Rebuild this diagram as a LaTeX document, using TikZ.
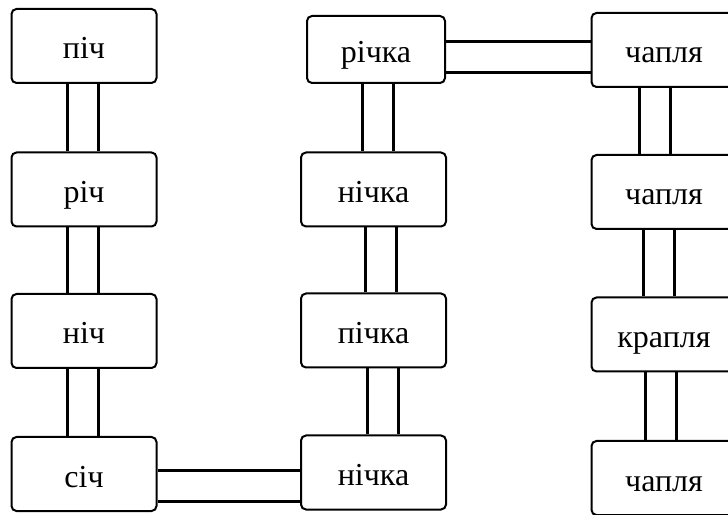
\documentclass[tikz,border=0pt]{standalone}
\usepackage{fontspec}
\setmainfont{Liberation Serif}
\usepackage{tikz}
\usetikzlibrary{backgrounds}
\tikzset{
  box/.style={draw, line width=2pt, rounded corners=5pt,
              minimum width=145pt, minimum height=74pt, inner sep=3pt,
              text height=34pt, text depth=8pt,
              font=\fontsize{32}{38}\selectfont},
  link/.style={double, line width=3pt, double distance=28pt}
}
\begin{document}
\begin{tikzpicture}[x=1pt,y=1pt]
  \useasboundingbox (0,0) rectangle (728,514);
  \clip (0,0) rectangle (728,514);
  % left column
  \node[box] (pich) at (84,468) {піч};
  \node[box] (rich) at (84,324.5) {річ};
  \node[box] (nich) at (84,183) {ніч};
  \node[box] (sich) at (84,40) {січ};
  % middle column
  \node[box, minimum width=138pt, minimum height=67pt] (richka) at (376,464.5) {річка};
  \node[box] (nichka) at (373.5,324.5) {нічка};
  \node[box] (pichka) at (373.5,183.5) {пічка};
  \node[box] (nichkab) at (373.5,41.5) {нічка};
  % right column
  \node[box] (chaplya) at (664,464) {чапля};
  \node[box] (chaplyab) at (664,322) {чапля};
  \node[box] (kraplya) at (664,179.5) {крапля};
  \node[box] (chaplyac) at (664,36) {чапля};
  \begin{scope}[on background layer]
    \draw[link] ([xshift=-1.5pt]pich.south) -- ([xshift=-1.5pt]rich.north);
    \draw[link] ([xshift=-1.5pt]rich.south) -- ([xshift=-1.5pt]nich.north);
    \draw[link] ([xshift=-1.5pt]nich.south) -- ([xshift=-1.5pt]sich.north);
    \draw[link] ([yshift=-12pt]sich.east) -- ([yshift=-13.5pt]nichkab.west);
    \draw[link] ([xshift=1.5pt]richka.south) -- ([xshift=4pt]nichka.north);
    \draw[link] ([xshift=7pt]nichka.south) -- ([xshift=7pt]pichka.north);
    \draw[link] ([xshift=9pt]pichka.south) -- ([xshift=9pt]nichkab.north);
    \draw[link] ([yshift=-7.5pt]richka.east) -- ([yshift=-7pt]chaplya.west);
    \draw[link] ([xshift=-9pt]chaplya.south) -- ([xshift=-9pt]chaplyab.north);
    \draw[link] ([xshift=-5pt]chaplyab.south) -- ([xshift=-5pt]kraplya.north);
    \draw[link] ([xshift=-3pt]kraplya.south) -- ([xshift=-3pt]chaplyac.north);
  \end{scope}
\end{tikzpicture}
\end{document}
